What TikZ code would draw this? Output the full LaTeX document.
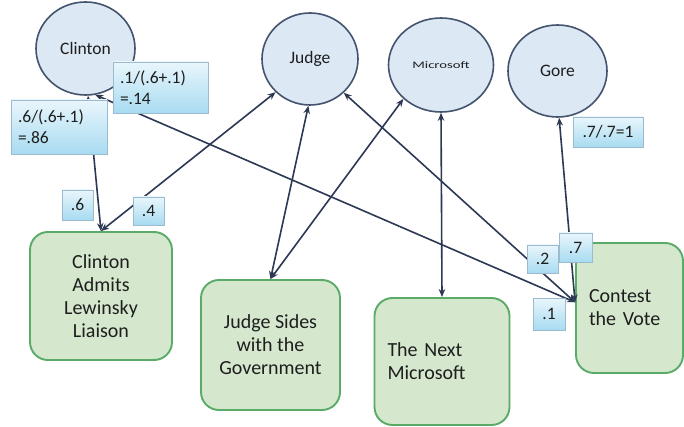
\documentclass[tikz,border=0pt]{standalone}
\usepackage{fontspec}
\setmainfont{Carlito}
\usetikzlibrary{arrows.meta,shapes.geometric,shadows}
\definecolor{circfill}{HTML}{DCE8F4}
\definecolor{circline}{HTML}{44536E}
\definecolor{boxfill}{HTML}{D5E8CE}
\definecolor{boxline}{HTML}{5AAA68}
\definecolor{arrowc}{HTML}{2C3854}
\definecolor{labtop}{HTML}{E9F6FC}
\definecolor{labbot}{HTML}{A8DBF1}
\definecolor{labline}{HTML}{9DBBCE}
\definecolor{txt}{HTML}{1E1E1E}
\begin{document}
\begin{tikzpicture}[x=1pt,y=-1pt,
 topic/.style={ellipse, draw=circline, line width=1.6pt, fill=circfill, inner sep=0pt, text=txt, font=\fontsize{17.5}{20}\selectfont},
 story/.style={rectangle, rounded corners=18pt, draw=boxline, line width=1.9pt, fill=boxfill, inner sep=0pt, text=txt, font=\fontsize{20}{23}\selectfont},
 prob/.style={rectangle, draw=labline, line width=0.6pt, top color=labtop, bottom color=labbot, inner sep=0pt, text=txt, font=\fontsize{17.5}{21}\selectfont, drop shadow={shadow xshift=1.2pt,shadow yshift=-1.2pt,opacity=0.3}},
 link/.style={{Stealth[length=8pt,width=6.5pt]}-{Stealth[length=8pt,width=6.5pt]}, draw=arrowc, line width=1.6pt}]
\useasboundingbox[fill=white] (0,0) rectangle (684,427);

% topic circles
\node[topic, minimum width=99pt, minimum height=93pt] (clinton) at (85.5,48.5) {Clinton};
\node[topic, minimum width=96pt, minimum height=92pt] (judge) at (310,59) {Judge};
\node[topic, minimum width=105pt, minimum height=94pt] (ms) at (441,65) {\scalebox{1.47}[1]{\fontsize{10}{12}\selectfont Microsoft}};
\node[topic, minimum width=99pt, minimum height=92pt] (gore) at (557.5,71) {Gore};

% story boxes
\node[story, minimum width=142pt, minimum height=128pt, align=center] (admits) at (101,296) {Clinton\\Admits\\Lewinsky\\Liaison};
\node[story, minimum width=139pt, minimum height=130pt, align=center] (sides) at (270.5,345) {Judge Sides\\with the\\Government};
\node[story, minimum width=135pt, minimum height=127pt, text width=109pt, align=left] (next) at (442,361.5) {The Next\\Microsoft};
\node[story, minimum width=107pt, minimum height=130pt, text width=81pt, align=left] (contest) at (629.5,308) {Contest\\the Vote};

% connectors
\draw[link] (clinton.273) -- (admits.north);
\draw[link] (clinton.282) -- (contest.174);
\draw[link] (judge.224) -- (admits.north);
\draw[link] (judge.268) -- (sides.north);
\draw[link] (ms.222) -- (sides.north);
\draw[link] (judge.315) -- (contest.174);
\draw[link] (ms.south) -- (next.north);
\draw[link] (gore.272) -- (contest.174);

% probability labels
\node[prob, minimum width=95pt, minimum height=51pt, text width=81pt, align=left] (l14) at (160.5,87.5) {.1/(.6+.1)\\=.14};
\node[prob, minimum width=96pt, minimum height=54pt, text width=82pt, align=left] (l86) at (59,127) {.6/(.6+.1)\\=.86};
\node[prob, minimum width=31pt, minimum height=30pt] (l6) at (77.5,205) {.6};
\node[prob, minimum width=31pt, minimum height=28pt] (l4) at (148.5,211) {.4};
\node[prob, minimum width=70pt, minimum height=30pt] (lg) at (608,132) {.7/.7=1};
\node[prob, minimum width=31pt, minimum height=28pt] (l2) at (542.5,259) {.2};
\node[prob, minimum width=33pt, minimum height=29pt] (l7) at (575.5,247.5) {.7};
\node[prob, minimum width=32pt, minimum height=32pt] (l1) at (549,314) {.1};
\end{tikzpicture}
\end{document}
